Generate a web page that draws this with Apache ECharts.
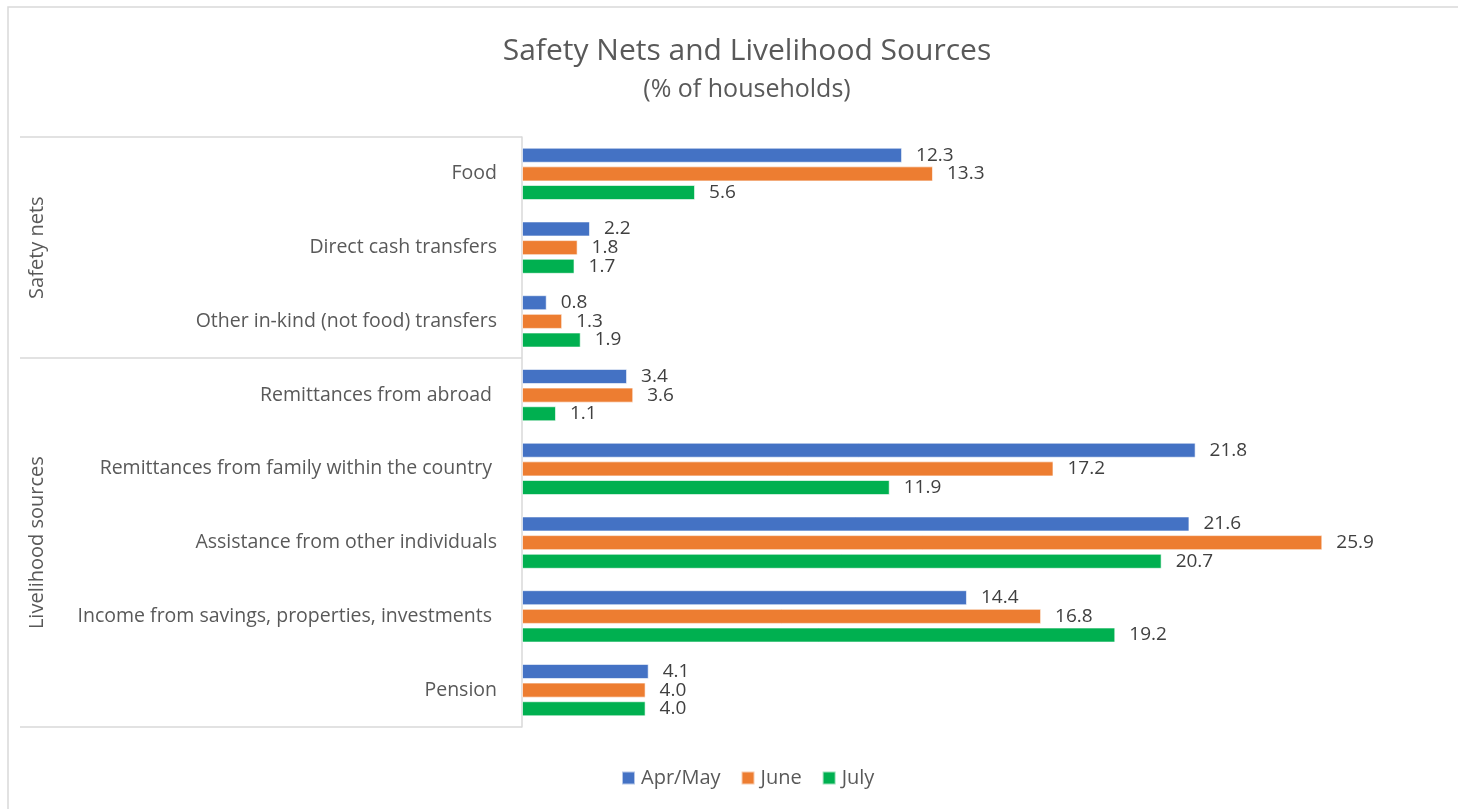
<!DOCTYPE html>
<html><head><meta charset="utf-8">
<script src="https://cdn.jsdelivr.net/npm/echarts@6/dist/echarts.min.js"></script>
<style>html,body{margin:0;padding:0;background:#fff}#c{width:1458px;height:809px}</style>
</head><body><div id="c"></div>
<script>
const categories = ["Food","Direct cash transfers","Other in-kind (not food) transfers","Remittances from abroad ","Remittances from family within the country ","Assistance from other individuals","Income from savings, properties, investments ","Pension"];
const groups = [{name:"Safety nets", from:0, to:2},{name:"Livelihood sources", from:3, to:7}];
const aprMay = [12.3,2.2,0.8,3.4,21.8,21.6,14.4,4.1];
const june = [13.3,1.8,1.3,3.6,17.2,25.9,16.8,4.0];
const july = [5.6,1.7,1.9,1.1,11.9,20.7,19.2,4.0];
const seriesNames = ["Apr/May","June","July"];
const colors = ["#4472C4","#ED7D31","#00B050"];

const FONT = "'Open Sans', 'Noto Sans', sans-serif";
const chart = echarts.init(document.getElementById('c'));
const mk = (name, data, color) => ({
  type:'bar', name, data,
  itemStyle:{color, borderColor:'rgba(255,255,255,0.6)', borderWidth:1},
  barGap:'24%', barCategoryGap:'29%',
  label:{show:true, position:'right', distance:14, formatter:p=>p.value.toFixed(1), color:'#404040', fontSize:19, fontFamily:FONT},
  animation:false
});
chart.setOption({
  animation:false,
  textStyle:{fontFamily:FONT},
  title:[
    {text:"Safety Nets and Livelihood Sources", left:742, top:31, textAlign:'center', textStyle:{fontSize:30, fontWeight:'normal', color:'#595959', fontFamily:FONT}},
    {text:"(% of households)", left:742, top:72, textAlign:'center', textStyle:{fontSize:25, fontWeight:'normal', color:'#595959', fontFamily:FONT}}
  ],
  legend:{top:763, left:616, itemWidth:13, itemHeight:13, itemGap:20, icon:'rect',
    textStyle:{fontSize:20, color:'#595959', fontFamily:FONT, padding:[0,0,0,1]}, data:seriesNames},
  grid:{left:522, top:137, width:927, height:590},
  xAxis:{type:'value', min:0, max:30, show:false},
  yAxis:{type:'category', data:categories, inverse:true,
    axisLine:{show:true, lineStyle:{color:'#d9d9d9', width:1.5}},
    axisTick:{show:false},
    axisLabel:{fontSize:19.5, color:'#595959', margin:25, fontFamily:FONT}},
  series:[mk(seriesNames[0], aprMay, colors[0]), mk(seriesNames[1], june, colors[1]), mk(seriesNames[2], july, colors[2])]
});

function addGraphics(){
  const g = [];
  g.push({type:'rect', shape:{x:8, y:7, width:1480, height:840}, style:{fill:'none', stroke:'#d9d9d9', lineWidth:1.5}, silent:true});
  const x0 = 20;
  const axisX = chart.convertToPixel({gridIndex:0}, [0,0])[0];
  const yc = i => chart.convertToPixel({yAxisIndex:0}, i);
  const band = yc(1) - yc(0);
  const boundaries = new Set();
  groups.forEach(gr => {
    const top = yc(gr.from) - band/2, bot = yc(gr.to) + band/2;
    boundaries.add(Math.round(top)); boundaries.add(Math.round(bot));
    g.push({type:'text', x:37, y:(top+bot)/2, rotation:Math.PI/2,
      style:{text:gr.name, textAlign:'center', textVerticalAlign:'middle', fontSize:20, fill:'#595959', fontFamily:FONT}, silent:true});
  });
  boundaries.forEach(y => g.push({type:'line', shape:{x1:x0, y1:y, x2:axisX, y2:y}, style:{stroke:'#d9d9d9', lineWidth:1.5}, silent:true}));
  chart.setOption({graphic:g});
}
addGraphics();
</script></body></html>
